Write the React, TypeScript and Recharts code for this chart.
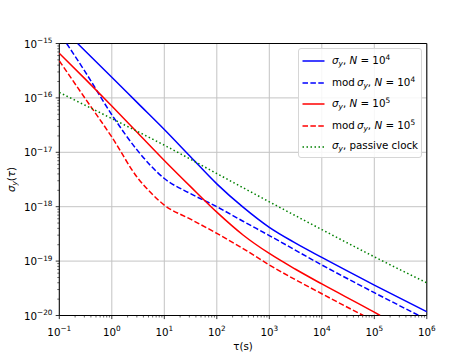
import React from 'react';
import { LineChart, Line, XAxis, YAxis, CartesianGrid, ReferenceArea, Legend } from 'recharts';

// ---- data (tau in seconds, sigma_y dimensionless) ----
const tauBlueSolid = [0.224, 1, 3.16, 10, 31.6, 100, 316, 1000, 3160, 1e4, 1e5, 1e6];
const sigmaBlueSolid = [1.0e-15, 2.4e-16, 7.94e-17, 2.63e-17, 8.3e-18, 2.63e-18, 9.8e-19, 4.17e-19, 2.14e-19, 1.17e-19, 3.63e-20, 1.17e-20];

const tauBlueDashed = [0.138, 0.316, 1, 3.16, 10, 31.6, 100, 316, 1000, 1e4, 1e5, 7.08e5];
const sigmaBlueDashed = [1.0e-15, 2.95e-16, 4.9e-17, 1.05e-17, 3.3e-18, 1.74e-18, 1.0e-18, 5.4e-19, 2.95e-19, 8.5e-20, 2.63e-20, 1.0e-20];

const tauRedSolid = [0.1, 0.316, 1, 3.16, 10, 31.6, 100, 316, 1000, 3160, 1e4, 1e5, 1.29e5];
const sigmaRedSolid = [6.6e-16, 2.19e-16, 7.08e-17, 2.24e-17, 7.08e-18, 2.34e-18, 7.94e-19, 3.02e-19, 1.38e-19, 7.08e-20, 3.8e-20, 1.15e-20, 1.0e-20];

const tauRedDashed = [0.1, 0.316, 1, 3.16, 5.62, 10, 31.6, 100, 316, 1000, 1e4, 6.17e4];
const sigmaRedDashed = [4.79e-16, 9.55e-17, 1.91e-17, 3.31e-18, 1.78e-18, 1.07e-18, 5.89e-19, 3.24e-19, 1.7e-19, 8.5e-20, 2.51e-20, 1.0e-20];

const tauGreen = [0.1, 1, 10, 100, 1000, 1e4, 1e5, 1e6];
const sigmaGreen = [1.26e-16, 4.17e-17, 1.35e-17, 4.07e-18, 1.23e-18, 3.8e-19, 1.2e-19, 3.98e-20];

const xMajorTicks = [1e-1, 1e0, 1e1, 1e2, 1e3, 1e4, 1e5, 1e6];
const yMajorTicks = [1e-20, 1e-19, 1e-18, 1e-17, 1e-16, 1e-15];
const minorMultipliers = [2, 3, 4, 5, 6, 7, 8, 9];

const build = (t: number[], s: number[]) => t.map((tau, i) => ({ tau, v: s[i] }));
const withMinor = (majors: number[]) => {
  const out: number[] = [];
  majors.forEach((m, i) => {
    out.push(m);
    if (i < majors.length - 1) minorMultipliers.forEach((k) => out.push(k * m));
  });
  return out;
};
const xTicks = withMinor(xMajorTicks);
const yTicks = withMinor(yMajorTicks);

const FONT = 'DejaVu Sans';
const isMajor = (v: number) => Math.abs(Math.log10(v) - Math.round(Math.log10(v))) < 1e-6;
const expStr = (v: number) => String(Math.round(Math.log10(v))).replace('-', '\u2212');

const XTick = (props: any) => {
  const { x, y, payload } = props;
  const v = payload.value;
  const major = isMajor(v);
  return (
    <g>
      <line x1={x} x2={x} y1={y} y2={y + (major ? 3.6 : 2)} stroke="#000" strokeWidth={major ? 0.8 : 0.6} />
      {major && (
        <text x={x} y={y + 20} textAnchor="middle" fontSize={10.3} fontFamily={FONT} fill="#000">
          10<tspan dy={-4.6} fontSize={7.3}>{expStr(v)}</tspan>
        </text>
      )}
    </g>
  );
};

const YTick = (props: any) => {
  const { x, y, payload } = props;
  const v = payload.value;
  const major = isMajor(v);
  return (
    <g>
      <line x1={x} x2={x - (major ? 3.6 : 2)} y1={y} y2={y} stroke="#000" strokeWidth={major ? 0.8 : 0.6} />
      {major && (
        <text x={x - 6.8} y={y + 4} textAnchor="end" fontSize={10.3} fontFamily={FONT} fill="#000">
          10<tspan dy={-4.6} fontSize={7.3}>{expStr(v)}</tspan>
        </text>
      )}
    </g>
  );
};

const series = [
  { key: 'bs', data: build(tauBlueSolid, sigmaBlueSolid), color: '#0000ff', dash: undefined as string | undefined, mod: false, n: '4' },
  { key: 'bd', data: build(tauBlueDashed, sigmaBlueDashed), color: '#0000ff', dash: '5.5 2.4', mod: true, n: '4' },
  { key: 'rs', data: build(tauRedSolid, sigmaRedSolid), color: '#ff0000', dash: undefined, mod: false, n: '5' },
  { key: 'rd', data: build(tauRedDashed, sigmaRedDashed), color: '#ff0000', dash: '5.5 2.4', mod: true, n: '5' },
  { key: 'gp', data: build(tauGreen, sigmaGreen), color: '#008000', dash: '1.5 2.5', mod: false, n: '' },
];

const Sigma = () => (
  <span>
    <i>σ</i>
    <i style={{ fontSize: '0.72em', verticalAlign: '-0.25em' }}>y</i>
  </span>
);

const labelFor = (key: string) => {
  const s = series.find((x) => x.key === key)!;
  if (key === 'gp')
    return (
      <span>
        <Sigma />, passive clock
      </span>
    );
  return (
    <span>
      {s.mod ? 'mod\u2009' : ''}
      <Sigma />, <i>N</i> = 10<span style={{ fontSize: '0.72em', verticalAlign: '0.55em' }}>{s.n}</span>
    </span>
  );
};

const renderLegend = () => {
  return (
    <div
      style={{
        position: 'relative',
        width: 124,
        height: 110,
        boxSizing: 'border-box',
        border: '1px solid #d6d6d6',
        borderRadius: 3,
        background: 'rgba(255,255,255,0.85)',
        fontFamily: FONT,
        fontSize: 10.3,
        color: '#000',
      }}
    >
      {series.map((s, i) => (
        <div
          key={s.key}
          style={{ position: 'absolute', left: 0, top: 12 + i * 21.5 - 8, height: 16, display: 'flex', alignItems: 'center', whiteSpace: 'nowrap', lineHeight: '16px' }}
        >
          <svg width={33} height={16} style={{ display: 'block' }}>
            <line x1={3.5} x2={25.5} y1={8} y2={8} stroke={s.color} strokeWidth={1.5} strokeDasharray={s.dash} />
          </svg>
          {labelFor(s.key)}
        </div>
      ))}
    </div>
  );
};

const YLabel = (props: any) => {
  const vb = props.viewBox || { x: 0, y: 0, width: 0, height: 0 };
  const cx = vb.x + 14.8;
  const cy = vb.y + vb.height / 2;
  return (
    <text transform={`translate(${cx},${cy}) rotate(-90)`} textAnchor="middle" fontSize={10.3} fontFamily={FONT} fill="#000">
      <tspan fontStyle="italic">σ</tspan>
      <tspan fontStyle="italic" fontSize={7.3} dy={2.5}>y</tspan>
      <tspan dy={-2.5}>(</tspan>
      <tspan fontStyle="italic">τ</tspan>
      <tspan>)</tspan>
    </text>
  );
};

const XLabel = (props: any) => {
  const vb = props.viewBox || { x: 0, y: 0, width: 0, height: 0 };
  return (
    <text x={vb.x + vb.width / 2} y={vb.y + 34} textAnchor="middle" fontSize={10.3} fontFamily={FONT} fill="#000">
      τ(s)
    </text>
  );
};

export default function App() {
  return (
    <div style={{ position: 'absolute', left: 0, top: 0, width: 474, height: 355, background: '#fff', fontFamily: FONT }}>
      <LineChart width={474} height={355} margin={{ top: 43.5, right: 47.2, left: 0, bottom: 0 }}>
        <CartesianGrid stroke="#c4c4c4" strokeWidth={1} verticalValues={xMajorTicks} horizontalValues={yMajorTicks} />
        <XAxis
          dataKey="tau"
          type="number"
          scale="log"
          domain={[0.1, 1e6]}
          allowDataOverflow
          ticks={xTicks}
          interval={0}
          tick={<XTick />}
          tickLine={false}
          axisLine={false}
          tickSize={0}
          tickMargin={0}
          height={39.5}
          label={<XLabel />}
        />
        <YAxis
          dataKey="v"
          type="number"
          scale="log"
          domain={[1e-20, 1e-15]}
          allowDataOverflow
          ticks={yTicks}
          interval={0}
          tick={<YTick />}
          tickLine={false}
          axisLine={false}
          tickSize={0}
          tickMargin={0}
          width={59.3}
          label={<YLabel />}
        />
        {series.map((s) => (
          <Line
            key={s.key}
            name={s.key}
            data={s.data}
            dataKey="v"
            type="monotone"
            stroke={s.color}
            strokeWidth={1.5}
            strokeDasharray={s.dash}
            dot={false}
            activeDot={false}
            isAnimationActive={false}
            legendType="line"
          />
        ))}
        <ReferenceArea x1={0.1} x2={1e6} y1={1e-20} y2={1e-15} fill="none" stroke="#000" strokeWidth={1} ifOverflow="visible" />
        <Legend
          layout="horizontal"
          verticalAlign="middle"
          align="center"
          content={renderLegend}
          wrapperStyle={{ position: 'absolute', left: 298, top: 48, width: 124, height: 110 }}
        />
      </LineChart>
    </div>
  );
}
